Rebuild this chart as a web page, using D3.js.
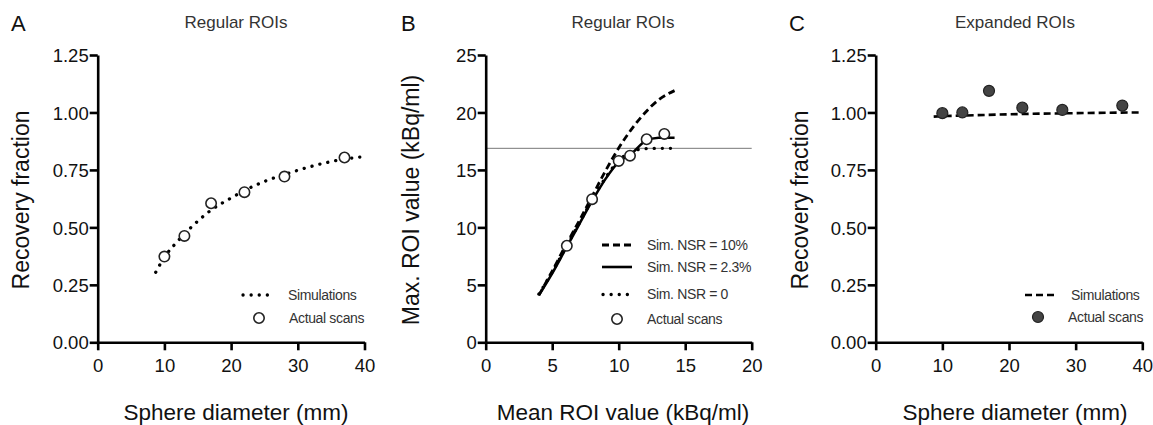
<!DOCTYPE html>
<html>
<head>
<meta charset="utf-8">
<script src="https://cdn.jsdelivr.net/npm/d3@7"></script>
<style>
  body { margin: 0; background: #fff; }
  svg { font-family: "Liberation Sans", Arial, sans-serif; }
</style>
</head>
<body>
<div id="chart"></div>
<script>
// ---------------- DATA ----------------
// panel A: regular ROIs, recovery fraction vs sphere diameter
const diamA = [10, 13, 17, 22, 28, 37];
const rfA = [0.373, 0.463, 0.605, 0.653, 0.721, 0.804];
const simDiamA = [8.7, 10, 12, 14, 17, 20, 22, 25, 28, 31, 34, 37, 40];
const simRfA = [0.305, 0.37, 0.44, 0.50, 0.575, 0.628, 0.66, 0.70, 0.73, 0.757, 0.78, 0.797, 0.808];

// panel B: max ROI value vs mean ROI value
const meanB = [6.1, 8.0, 10.0, 10.85, 12.1, 13.43];
const maxB = [8.4, 12.45, 15.78, 16.24, 17.67, 18.13];
const simMeanB = [4, 5, 6, 7, 8, 9, 10, 11, 12, 13, 14.2];
const nsr10 = [4.1, 6.2, 8.4, 10.5, 12.7, 14.9, 16.9, 18.6, 20.0, 21.1, 21.9];
const nsr23 = [4.1, 6.0, 8.1, 10.2, 12.3, 14.2, 15.7, 16.45, 17.5, 17.8, 17.8];
const nsr0 = [4.2, 6.1, 8.2, 10.3, 12.4, 14.3, 15.8, 16.6, 16.85, 16.88, 16.88];
const refLineB = 16.88;

// panel C: expanded ROIs
const diamC = [10, 13, 17, 22, 28, 37];
const rfC = [0.997, 1.0, 1.094, 1.021, 1.011, 1.03];
const simDiamC = [8.7, 10, 15, 20, 25, 30, 35, 40];
const simRfC = [0.982, 0.984, 0.988, 0.992, 0.995, 0.997, 0.999, 1.0];

const ticksRF = [0, 0.25, 0.5, 0.75, 1.0, 1.25];
const ticksDiam = [0, 10, 20, 30, 40];
const ticksMean = [0, 5, 10, 15, 20];
const ticksMax = [0, 5, 10, 15, 20, 25];

// ---------------- LAYOUT ----------------
const W = 1153, H = 425;
const yTop = 55, yBot = 342.3;

const svg = d3.select("#chart").append("svg")
  .attr("width", W)
  .attr("height", H);

const dotted = "0.1,8";
const dashed = "7,4";

function zipXY(xs, ys) {
  return xs.map((x, i) => [x, ys[i]]);
}

function drawAxes(x, y, xTicks, yTicks, yFmt) {
  const gx = svg.append("g")
    .attr("transform", "translate(0," + yBot + ")")
    .call(d3.axisBottom(x).tickValues(xTicks).tickSize(8).tickSizeOuter(0).tickFormat(d3.format("d")));
  const gy = svg.append("g")
    .attr("transform", "translate(" + x.range()[0] + ",0)")
    .call(d3.axisLeft(y).tickValues(yTicks).tickSize(8).tickSizeOuter(0).tickFormat(yFmt));
  [gx, gy].forEach(g => {
    g.select(".domain").attr("stroke", "#000").attr("stroke-width", 2.6);
    g.selectAll(".tick line").attr("stroke", "#000").attr("stroke-width", 2.6);
    g.selectAll(".tick text").attr("font-size", 18.5).attr("fill", "#111")
      .attr("font-family", "Liberation Sans, Arial, sans-serif");
  });
  gx.selectAll(".tick text").attr("dy", "1.02em");
  gy.selectAll(".tick text").attr("x", -9).attr("dy", "0.36em");
}

function labels(cx, letterX, letter, title, xTitle, yTitle, yTitleX) {
  svg.append("text").attr("x", letterX).attr("y", 31)
    .attr("font-size", 22).attr("fill", "#111").text(letter);
  svg.append("text").attr("x", cx).attr("y", 28).attr("text-anchor", "middle")
    .attr("font-size", 17).attr("fill", "#333").text(title);
  svg.append("text").attr("x", cx).attr("y", 420).attr("text-anchor", "middle")
    .attr("font-size", 22.5).attr("fill", "#111").text(xTitle);
  svg.append("text")
    .attr("transform", "translate(" + yTitleX + ",200) rotate(-90)")
    .attr("text-anchor", "middle")
    .attr("font-size", 23).attr("fill", "#111").text(yTitle);
}

function legendLine(x0, y, dash, width) {
  svg.append("line")
    .attr("x1", x0).attr("x2", x0 + 30).attr("y1", y).attr("y2", y)
    .attr("stroke", "#000").attr("stroke-width", width)
    .attr("stroke-linecap", dash === dotted ? "round" : "butt")
    .attr("stroke-dasharray", dash);
}

function legendText(x, y, t) {
  svg.append("text").attr("x", x).attr("y", y).attr("dy", "0.35em")
    .attr("font-size", 14).attr("letter-spacing", -0.35).attr("fill", "#333").text(t);
}

// ---------------- PANEL A ----------------
(function () {
  const x = d3.scaleLinear().domain([0, 40]).range([97.7, 364.5]);
  const y = d3.scaleLinear().domain([0, 1.25]).range([yBot, yTop]);
  const line = d3.line().x(d => x(d[0])).y(d => y(d[1])).curve(d3.curveMonotoneX);

  svg.append("path").datum(zipXY(simDiamA, simRfA))
    .attr("d", line).attr("fill", "none").attr("stroke", "#000")
    .attr("stroke-width", 3.3).attr("stroke-linecap", "round").attr("stroke-dasharray", dotted);

  svg.append("g").selectAll("circle").data(zipXY(diamA, rfA)).enter().append("circle")
    .attr("cx", d => x(d[0])).attr("cy", d => y(d[1])).attr("r", 5.2)
    .attr("fill", "#fff").attr("stroke", "#222").attr("stroke-width", 1.6);

  drawAxes(x, y, ticksDiam, ticksRF, d3.format(".2f"));
  labels(236, 11, "A", "Regular ROIs", "Sphere diameter (mm)", "Recovery fraction", 29);

  legendLine(243, 295, dotted, 3.3);
  legendText(288, 295, "Simulations");
  svg.append("circle").attr("cx", 259).attr("cy", 318).attr("r", 5.2)
    .attr("fill", "#fff").attr("stroke", "#222").attr("stroke-width", 1.6);
  legendText(289, 318, "Actual scans");
})();

// ---------------- PANEL B ----------------
(function () {
  const x = d3.scaleLinear().domain([0, 20]).range([485.7, 751.7]);
  const y = d3.scaleLinear().domain([0, 25]).range([yBot, yTop]);
  const line = d3.line().x(d => x(d[0])).y(d => y(d[1])).curve(d3.curveMonotoneX);

  svg.append("line")
    .attr("x1", x(0)).attr("x2", x(20)).attr("y1", y(refLineB)).attr("y2", y(refLineB))
    .attr("stroke", "#777").attr("stroke-width", 1);

  svg.append("path").datum(zipXY(simMeanB, nsr0))
    .attr("d", line).attr("fill", "none").attr("stroke", "#000")
    .attr("stroke-width", 3.3).attr("stroke-linecap", "round").attr("stroke-dasharray", dotted);
  svg.append("path").datum(zipXY(simMeanB, nsr23))
    .attr("d", line).attr("fill", "none").attr("stroke", "#000").attr("stroke-width", 2.6);
  svg.append("path").datum(zipXY(simMeanB, nsr10))
    .attr("d", line).attr("fill", "none").attr("stroke", "#000")
    .attr("stroke-width", 2.8).attr("stroke-dasharray", dashed);

  svg.append("g").selectAll("circle").data(zipXY(meanB, maxB)).enter().append("circle")
    .attr("cx", d => x(d[0])).attr("cy", d => y(d[1])).attr("r", 5.2)
    .attr("fill", "#fff").attr("stroke", "#222").attr("stroke-width", 1.6);

  drawAxes(x, y, ticksMean, ticksMax, d3.format("d"));
  labels(623, 401, "B", "Regular ROIs", "Mean ROI value (kBq/ml)", "Max. ROI value (kBq/ml)", 419);

  legendLine(602, 245, dashed, 2.8);
  legendText(647, 245, "Sim. NSR = 10%");
  legendLine(602, 267, "", 2.6);
  legendText(647, 267, "Sim. NSR = 2.3%");
  legendLine(603, 294.5, dotted, 3.3);
  legendText(647, 294.5, "Sim. NSR = 0");
  svg.append("circle").attr("cx", 617).attr("cy", 319).attr("r", 5.2)
    .attr("fill", "#fff").attr("stroke", "#222").attr("stroke-width", 1.6);
  legendText(647, 319, "Actual scans");
})();

// ---------------- PANEL C ----------------
(function () {
  const x = d3.scaleLinear().domain([0, 40]).range([875.7, 1142.3]);
  const y = d3.scaleLinear().domain([0, 1.25]).range([yBot, yTop]);
  const line = d3.line().x(d => x(d[0])).y(d => y(d[1]));

  svg.append("path").datum(zipXY(simDiamC, simRfC))
    .attr("d", line).attr("fill", "none").attr("stroke", "#000")
    .attr("stroke-width", 2.6).attr("stroke-dasharray", dashed);

  svg.append("g").selectAll("circle").data(zipXY(diamC, rfC)).enter().append("circle")
    .attr("cx", d => x(d[0])).attr("cy", d => y(d[1])).attr("r", 5.5)
    .attr("fill", "#444").attr("stroke", "#222").attr("stroke-width", 1.2);

  drawAxes(x, y, ticksDiam, ticksRF, d3.format(".2f"));
  labels(1015, 789, "C", "Expanded ROIs", "Sphere diameter (mm)", "Recovery fraction", 808);

  legendLine(1025, 295, dashed, 2.6);
  legendText(1071, 295, "Simulations");
  svg.append("circle").attr("cx", 1038).attr("cy", 317).attr("r", 5.5)
    .attr("fill", "#444").attr("stroke", "#222").attr("stroke-width", 1.2);
  legendText(1068, 317, "Actual scans");
})();
</script>
</body>
</html>
